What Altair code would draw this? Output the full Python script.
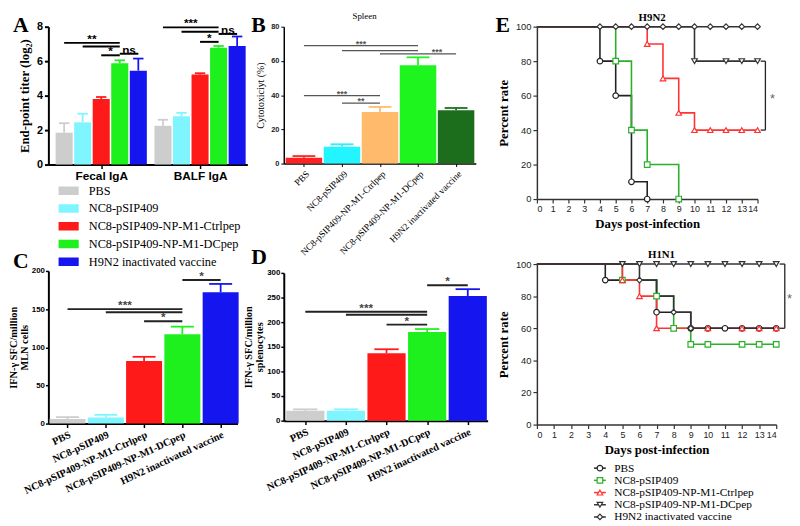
import altair as alt
import pandas as pd

SERIF = "Liberation Serif"
SANS = "Liberation Sans"

# ---------------- data ----------------
treatments = ["PBS", "NC8-pSIP409", "NC8-pSIP409-NP-M1-Ctrlpep",
              "NC8-pSIP409-NP-M1-DCpep", "H9N2 inactivated vaccine"]
colors_main = ["#CDCDCD", "#7FF6FF", "#FF1A1A", "#1EF01E", "#1515F0"]
colors_b = ["#FF2222", "#22F5FF", "#FFBB6B", "#1EF51E", "#1C6E1C"]

# Panel A
a_sites = ["Fecal IgA", "BALF IgA"]
a_site_start = [0.0, 5.33]
a_fecal_mean = [1.85, 2.45, 3.8, 5.88, 5.45]
a_fecal_err = [0.55, 0.5, 0.12, 0.17, 0.7]
a_balf_mean = [2.25, 2.8, 5.22, 6.78, 6.88]
a_balf_err = [0.35, 0.2, 0.08, 0.1, 0.55]
a_sig_site = [0, 0, 0, 0, 1, 1, 1, 1]
a_sig_from = [0, 1, 2, 3, 0, 1, 2, 3]
a_sig_to = [3, 3, 3, 4, 3, 3, 3, 4]
a_sig_level = [7.06, 6.85, 6.34, 6.43, 7.96, 7.71, 7.12, 7.58]
a_sig_label = ["**", "", "*", "ns", "***", "", "*", "ns"]

# Panel B
b_title = "Spleen"
b_mean = [3.4, 9.8, 30.2, 57.5, 31.2]
b_err = [1.0, 1.5, 2.9, 4.6, 1.3]
b_sig_from = [0, 1, 2, 3, 0, 1]
b_sig_to = [3, 3, 3, 4, 2, 2]
b_sig_level = [68.9, 66.0, 64.1, 64.1, 39.7, 35.3]
b_sig_label = ["***", "", "", "***", "***", "**"]

# Panel C
c_mean = [6, 8, 82, 117, 172]
c_err = [2.5, 3.5, 5.5, 10, 11]
c_sig_from = [0, 1, 2, 3]
c_sig_to = [3, 3, 3, 4]
c_sig_level = [150, 146, 134, 188]
c_sig_label = ["***", "", "*", "*"]

# Panel D
d_mean = [20, 20, 137, 180, 253]
d_err = [3, 3, 8, 6, 14]
d_sig_from = [0, 1, 2, 3]
d_sig_to = [3, 3, 3, 4]
d_sig_level = [221, 215, 195, 275]
d_sig_label = ["***", "", "*", "*"]

# Panel E
e_titles = ["H9N2", "H1N1"]
e_series = treatments
e_colors = ["#222222", "#2BB02B", "#FF3333", "#333333", "#333333"]
e_shapes = ["circle", "square", "triangle-up", "triangle-down", "diamond"]

h9_line_day = {
    "PBS": [0, 4, 5, 6, 7],
    "NC8-pSIP409": [0, 5, 6, 7, 9],
    "NC8-pSIP409-NP-M1-Ctrlpep": [0, 7, 8, 9, 10, 14],
    "NC8-pSIP409-NP-M1-DCpep": [0, 10, 14],
    "H9N2 inactivated vaccine": [0, 14],
}
h9_line_pct = {
    "PBS": [100, 80, 60, 10, 0],
    "NC8-pSIP409": [100, 80, 40, 20, 0],
    "NC8-pSIP409-NP-M1-Ctrlpep": [100, 90, 70, 50, 40, 40],
    "NC8-pSIP409-NP-M1-DCpep": [100, 80, 80],
    "H9N2 inactivated vaccine": [100, 100],
}
h9_mark_day = {
    "PBS": [4, 5, 6, 7],
    "NC8-pSIP409": [5, 6, 7, 9],
    "NC8-pSIP409-NP-M1-Ctrlpep": [7, 8, 9, 10, 11, 12, 13, 14],
    "NC8-pSIP409-NP-M1-DCpep": [10, 12, 13, 14],
    "H9N2 inactivated vaccine": [4, 5, 6, 7, 8, 9, 10, 11, 12, 13, 14],
}
h9_mark_pct = {
    "PBS": [80, 60, 10, 0],
    "NC8-pSIP409": [80, 40, 20, 0],
    "NC8-pSIP409-NP-M1-Ctrlpep": [90, 70, 50, 40, 40, 40, 40, 40],
    "NC8-pSIP409-NP-M1-DCpep": [80, 80, 80, 80],
    "H9N2 inactivated vaccine": [100] * 11,
}

h1_line_day = {
    "PBS": [0, 4, 7, 9, 14],
    "NC8-pSIP409": [0, 5, 7, 8, 9, 14],
    "NC8-pSIP409-NP-M1-Ctrlpep": [0, 5, 6, 7, 14],
    "NC8-pSIP409-NP-M1-DCpep": [0, 14],
    "H9N2 inactivated vaccine": [0, 6, 7, 8, 9, 14],
}
h1_line_pct = {
    "PBS": [100, 90, 70, 60, 60],
    "NC8-pSIP409": [100, 90, 80, 60, 50, 50],
    "NC8-pSIP409-NP-M1-Ctrlpep": [100, 90, 80, 60, 60],
    "NC8-pSIP409-NP-M1-DCpep": [100, 100],
    "H9N2 inactivated vaccine": [100, 90, 80, 70, 60, 60],
}
h1_mark_day = {
    "PBS": [4, 7, 9, 10, 11, 12, 13, 14],
    "NC8-pSIP409": [5, 7, 8, 9, 10, 12, 13, 14],
    "NC8-pSIP409-NP-M1-Ctrlpep": [5, 6, 7, 10, 12, 13, 14],
    "NC8-pSIP409-NP-M1-DCpep": [5, 6, 7, 8, 9, 10, 11, 12, 13, 14],
    "H9N2 inactivated vaccine": [6, 8, 9],
}
h1_mark_pct = {
    "PBS": [90, 70, 60, 60, 60, 60, 60, 60],
    "NC8-pSIP409": [90, 80, 60, 50, 50, 50, 50, 50],
    "NC8-pSIP409-NP-M1-Ctrlpep": [90, 80, 60, 60, 60, 60, 60],
    "NC8-pSIP409-NP-M1-DCpep": [100] * 10,
    "H9N2 inactivated vaccine": [90, 70, 60],
}
# significance brackets of the survival plots (x, upper, lower)
h9_bracket = [14.5, 80, 40]
h1_bracket = [14.5, 100, 60]

panel_letters = ["A", "B", "C", "D", "E"]

# ---------------- helpers ----------------
names_js = "[" + ",".join("'" + t + "'" for t in treatments) + "]"


def note(txt, dx, dy, size=22, weight="bold", baseline="top", align="left", font=SERIF,
         color="black"):
    return alt.Chart(pd.DataFrame({"t": [txt]})).mark_text(
        font=font, fontSize=size, fontWeight=weight, align=align,
        baseline=baseline, color=color).encode(
        x=alt.value(dx), y=alt.value(dy), text="t:N")


def bar_layers(bars_df, sig_df, xscale, yscale, ax_x, ax_y, cscale, half, cap,
               sig_w, sig_col, star_size, star_col, legend=None, star_font=SANS):
    base = alt.Chart(bars_df)
    col = alt.Color("treatment:N", scale=cscale, legend=legend)
    bars = base.transform_calculate(
        xa="datum.pos - " + str(half), xb="datum.pos + " + str(half), zero="0"
    ).mark_bar().encode(
        x=alt.X("xa:Q", scale=xscale, axis=ax_x), x2="xb:Q",
        y=alt.Y("mean:Q", scale=yscale, axis=ax_y), y2="zero:Q",
        color=col)
    errv = base.transform_calculate(top="datum.mean + datum.err").mark_rule(
        strokeWidth=1.8).encode(
        x=alt.X("pos:Q", scale=xscale, axis=ax_x),
        y=alt.Y("mean:Q", scale=yscale, axis=ax_y), y2="top:Q",
        color=col)
    errc = base.transform_calculate(
        top="datum.mean + datum.err", ca="datum.pos - " + str(cap),
        cb="datum.pos + " + str(cap)).mark_rule(strokeWidth=1.8).encode(
        x=alt.X("ca:Q", scale=xscale, axis=ax_x), x2="cb:Q",
        y=alt.Y("top:Q", scale=yscale, axis=ax_y),
        color=col)
    sig = alt.Chart(sig_df).mark_rule(strokeWidth=sig_w, color=sig_col).encode(
        x=alt.X("x1:Q", scale=xscale, axis=ax_x), x2="x2:Q",
        y=alt.Y("lvl:Q", scale=yscale, axis=ax_y))
    stars = alt.Chart(sig_df).transform_filter("datum.lab != ''").transform_calculate(
        xm="(datum.x1 + datum.x2) / 2").mark_text(
        font=star_font, fontSize=star_size, fontWeight="bold", color=star_col,
        baseline="bottom", dy=3).encode(
        x=alt.X("xm:Q", scale=xscale, axis=ax_x),
        y=alt.Y("lvl:Q", scale=yscale, axis=ax_y), text="lab:N")
    return [bars, errv, errc, sig, stars]


def simple_bar_df(means, errs):
    return pd.DataFrame({"treatment": treatments, "pos": list(range(len(treatments))),
                         "mean": means, "err": errs})


def sig_frame(fr, to, lv, lab):
    return pd.DataFrame({"x1": fr, "x2": to, "lvl": lv, "lab": lab})


# ---------------- Panel A ----------------
a_rows = []
for s, (means, errs) in enumerate([(a_fecal_mean, a_fecal_err), (a_balf_mean, a_balf_err)]):
    for i, t in enumerate(treatments):
        a_rows.append({"treatment": t, "pos": a_site_start[s] + i, "mean": means[i], "err": errs[i]})
a_df = pd.DataFrame(a_rows)
a_sig = pd.DataFrame({
    "x1": [a_site_start[s] + f for s, f in zip(a_sig_site, a_sig_from)],
    "x2": [a_site_start[s] + t for s, t in zip(a_sig_site, a_sig_to)],
    "lvl": a_sig_level, "lab": a_sig_label})
a_centers = [st + 2 for st in a_site_start]
a_xscale = alt.Scale(domain=[-0.85, 9.88], nice=False, zero=False)
a_yscale = alt.Scale(domain=[0, 8], nice=False)
a_cscale = alt.Scale(domain=treatments, range=colors_main)
a_ax_x = alt.Axis(values=a_centers, title=None,
                  labelExpr="datum.value < " + str(a_site_start[1]) + " ? '" + a_sites[0] + "' : '" + a_sites[1] + "'",
                  labelFont=SANS, labelFontWeight="bold", labelFontSize=12, labelColor="black",
                  domainColor="black", domainWidth=2, tickColor="black", tickWidth=1.5, tickSize=4,
                  labelPadding=2, grid=False)
a_ax_y = alt.Axis(values=[0, 2, 4, 6, 8], title="End-point titer (log₂)", titleFont=SERIF,
                  titleFontSize=13, titleFontWeight="bold", titleColor="black",
                  labelFont=SANS, labelFontWeight="bold", labelFontSize=11, labelColor="black",
                  domainColor="black", domainWidth=2, tickColor="black", tickWidth=2, tickSize=4,
                  grid=False, titlePadding=5)
panel_a = alt.layer(
    *bar_layers(a_df, a_sig, a_xscale, a_yscale, a_ax_x, a_ax_y, a_cscale, 0.46, 0.28,
                2, "black", 12, "black", star_font=SANS),
    note(panel_letters[0], -36, -12)
).properties(width=202, height=140)

# ---------------- Panel C ----------------
c_df = simple_bar_df(c_mean, c_err)
c_sig = sig_frame(c_sig_from, c_sig_to, c_sig_level, c_sig_label)
c_xscale = alt.Scale(domain=[-0.5, 4.44], nice=False, zero=False)
c_yscale = alt.Scale(domain=[0, 200], nice=False)
rot_ax = dict(values=[0, 1, 2, 3, 4], title=None, labelExpr=names_js + "[datum.value]",
              labelAngle=-25, labelAlign="right", labelBaseline="top", labelOverlap=False,
              labelFont=SERIF, labelFontWeight="bold", labelFontSize=10.5, labelColor="black",
              domainColor="black", domainWidth=2, tickColor="black", tickWidth=1.5, tickSize=4,
              labelPadding=2, grid=False)
ifn_y = dict(titleFont=SERIF, titleFontSize=10.5, titleFontWeight="bold", titleColor="black",
             titleLineHeight=11,
             labelFont=SANS, labelFontWeight="bold", labelFontSize=8, labelColor="black",
             domainColor="black", domainWidth=2, tickColor="black", tickWidth=1.5, tickSize=3,
             labelPadding=1, grid=False, titlePadding=2)
c_ax_x = alt.Axis(**rot_ax)
c_ax_y = alt.Axis(values=[0, 50, 100, 150, 200], title=["IFN-γ SFC/million", "MLN cells"], **ifn_y)
c_legend = alt.Legend(orient="none", legendX=10, legendY=-90, title=None,
                      symbolType="M-1,-0.42H1V0.42H-1Z", symbolSize=424, symbolStrokeWidth=0,
                      labelFont=SERIF, labelFontSize=12.5, labelColor="black", labelOffset=10,
                      clipHeight=17.3, rowPadding=0, padding=0)
panel_c = alt.layer(
    *bar_layers(c_df, c_sig, c_xscale, c_yscale, c_ax_x, c_ax_y, a_cscale, 0.47, 0.3,
                2, "#222222", 12, "#444444", legend=c_legend),
    note(panel_letters[2], -36, -20)
).properties(width=192, height=155)

# ---------------- Panel B ----------------
b_df = simple_bar_df(b_mean, b_err)
b_sig = sig_frame(b_sig_from, b_sig_to, b_sig_level, b_sig_label)
b_xscale = alt.Scale(domain=[-0.53, 4.52], nice=False, zero=False)
b_yscale = alt.Scale(domain=[0, 80], nice=False)
b_cscale = alt.Scale(domain=treatments, range=colors_b)
b_ax_x = alt.Axis(values=[0, 1, 2, 3, 4], title=None, labelExpr=names_js + "[datum.value]",
                  labelAngle=-45, labelAlign="right", labelBaseline="top", labelOverlap=False,
                  labelFont=SERIF, labelFontSize=9.5, labelColor="black",
                  domainColor="black", domainWidth=1.5, tickColor="black", tickWidth=1, tickSize=3,
                  labelPadding=2, grid=False)
b_ax_y = alt.Axis(values=[0, 20, 40, 60, 80], title="Cytotoxiciyt (%)", titleFont=SERIF,
                  titleFontSize=10, titleFontWeight="normal", titleColor="black",
                  labelFont=SANS, labelFontWeight="bold", labelFontSize=7.5, labelColor="#222222",
                  domainColor="black", domainWidth=1.5, tickColor="black", tickWidth=1, tickSize=3,
                  grid=False, titlePadding=5)
panel_b = alt.layer(
    *bar_layers(b_df, b_sig, b_xscale, b_yscale, b_ax_x, b_ax_y, b_cscale, 0.48, 0.3,
                1.2, "#555555", 9, "#555555"),
    note(panel_letters[1], -33, -12),
    note(b_title, 82, -11, size=9, weight="normal", baseline="middle", align="center")
).properties(width=195, height=139)

# ---------------- Panel D ----------------
d_df = simple_bar_df(d_mean, d_err)
d_sig = sig_frame(d_sig_from, d_sig_to, d_sig_level, d_sig_label)
d_xscale = alt.Scale(domain=[-0.53, 4.49], nice=False, zero=False)
d_yscale = alt.Scale(domain=[0, 300], nice=False)
d_ax_x = alt.Axis(**rot_ax)
d_ax_y = alt.Axis(values=[0, 50, 100, 150, 200, 250, 300],
                  title=["IFN-γ SFC/million", "splenocytes"], **ifn_y)
panel_d = alt.layer(
    *bar_layers(d_df, d_sig, d_xscale, d_yscale, d_ax_x, d_ax_y, a_cscale, 0.47, 0.3,
                2, "#222222", 12, "#444444"),
    note(panel_letters[3], -33, -26)
).properties(width=207, height=150)


# ---------------- Panel E ----------------
def long_df(days, pcts):
    rows = []
    for s in e_series:
        for d, p in zip(days[s], pcts[s]):
            rows.append({"series": s, "day": d, "pct": p})
    return pd.DataFrame(rows)


e_cscale = alt.Scale(domain=e_series, range=e_colors)
e_sscale = alt.Scale(domain=e_series, range=e_shapes)


def surv_panel(line_days, line_pcts, mark_days, mark_pcts, bracket, title, w, h, star_dx,
               extra=None):
    xs = alt.Scale(domain=[0, 14], nice=False, zero=False)
    ys = alt.Scale(domain=[0, 100], nice=False)
    ax_x = alt.Axis(values=list(range(15)), title="Days post-infection", titleFont=SERIF,
                    titleFontSize=13, titleFontWeight="bold", titleColor="black",
                    labelFont=SANS, labelFontSize=9, labelColor="#222222", labelOverlap=False,
                    domainColor="#333333", domainWidth=1.5, tickColor="#333333",
                    tickWidth=1.2, tickSize=4, labelPadding=2, titlePadding=4, grid=False)
    ax_y = alt.Axis(values=[0, 20, 40, 60, 80, 100], title="Percent rate", titleFont=SERIF,
                    titleFontSize=13, titleFontWeight="bold", titleColor="black",
                    labelFont=SANS, labelFontSize=9.5, labelColor="#222222",
                    domainColor="#333333", domainWidth=1.5, tickColor="#333333",
                    tickWidth=1.2, tickSize=4, titlePadding=5, grid=False)
    col = alt.Color("series:N", scale=e_cscale, legend=None)
    lines = alt.Chart(long_df(line_days, line_pcts)).mark_line(
        interpolate="step-after", strokeWidth=1.6).encode(
        x=alt.X("day:Q", scale=xs, axis=ax_x), y=alt.Y("pct:Q", scale=ys, axis=ax_y),
        color=col, detail="series:N")
    marks = alt.Chart(long_df(mark_days, mark_pcts)).mark_point(
        filled=False, fill="white", fillOpacity=1, size=32, strokeWidth=1.2, opacity=1).encode(
        x=alt.X("day:Q", scale=xs, axis=ax_x), y=alt.Y("pct:Q", scale=ys, axis=ax_y),
        color=col, shape=alt.Shape("series:N", scale=e_sscale, legend=None))
    bdf = pd.DataFrame({"x": [bracket[0]], "xs": [bracket[0] - 0.3], "y1": [bracket[1]],
                        "y2": [bracket[2]], "ym": [(bracket[1] + bracket[2]) / 2],
                        "xt": [bracket[0] + star_dx], "lab": ["*"]})
    vr = alt.Chart(bdf).mark_rule(color="#222222", strokeWidth=1.3).encode(
        x=alt.X("x:Q", scale=xs, axis=ax_x), y=alt.Y("y1:Q", scale=ys, axis=ax_y), y2="y2:Q")
    s1 = alt.Chart(bdf).mark_rule(color="#222222", strokeWidth=1.3).encode(
        x=alt.X("xs:Q", scale=xs, axis=ax_x), x2="x:Q", y=alt.Y("y1:Q", scale=ys, axis=ax_y))
    s2 = alt.Chart(bdf).mark_rule(color="#222222", strokeWidth=1.3).encode(
        x=alt.X("xs:Q", scale=xs, axis=ax_x), x2="x:Q", y=alt.Y("y2:Q", scale=ys, axis=ax_y))
    st = alt.Chart(bdf).mark_text(font=SANS, fontSize=13, color="#666666", baseline="middle",
                                  dy=3).encode(
        x=alt.X("xt:Q", scale=xs, axis=ax_x), y=alt.Y("ym:Q", scale=ys, axis=ax_y), text="lab:N")
    ttl = note(title, w / 2 + 5, -9, size=11, baseline="middle", align="center")
    layers = [lines, marks, vr, s1, s2, st, ttl]
    if extra is not None:
        layers.append(extra)
    return alt.layer(*layers).properties(width=w, height=h)


e_top = surv_panel(h9_line_day, h9_line_pct, h9_mark_day, h9_mark_pct, h9_bracket, e_titles[0],
                   224, 175, 0.45, extra=note(panel_letters[4], -42, -12))
e_bot = surv_panel(h1_line_day, h1_line_pct, h1_mark_day, h1_mark_pct, h1_bracket, e_titles[1],
                   243, 163, 0.27)

leg_df = pd.DataFrame({"series": e_series})
leg_y = alt.Y("series:N", sort=e_series, scale=alt.Scale(type="point", domain=e_series, padding=0.5),
              axis=alt.Axis(orient="right", title=None, domain=False, ticks=False,
                            labelFont=SERIF, labelFontSize=11.5, labelColor="black",
                            labelPadding=8))
leg_col = alt.Color("series:N", scale=e_cscale, legend=None)
leg_rule = alt.Chart(leg_df).mark_rule(strokeWidth=1.5).encode(
    x=alt.value(58), x2=alt.value(70), y=leg_y, color=leg_col)
leg_pt = alt.Chart(leg_df).mark_point(filled=False, fill="white", fillOpacity=1, size=32,
                                      strokeWidth=1.2, opacity=1).encode(
    x=alt.value(64), y=leg_y, color=leg_col,
    shape=alt.Shape("series:N", scale=e_sscale, legend=None))
e_leg = alt.layer(leg_rule, leg_pt).properties(width=70, height=62)

indep = dict(color="independent", shape="independent")
col1 = alt.vconcat(panel_a, panel_c, spacing=1).resolve_scale(**indep)
col2 = alt.vconcat(panel_b, panel_d, spacing=-11).resolve_scale(**indep)
col3 = alt.vconcat(alt.vconcat(e_top, e_bot, spacing=19).resolve_scale(**indep), e_leg,
                   spacing=6).resolve_scale(**indep)

left = alt.hconcat(col1, col2, spacing=-4).resolve_scale(**indep)
chart = alt.hconcat(left, col3, spacing=8).resolve_scale(**indep).properties(
    padding=0).configure_view(stroke=None)
chart.save("out.html", embed_options={"renderer": "svg", "actions": False})
